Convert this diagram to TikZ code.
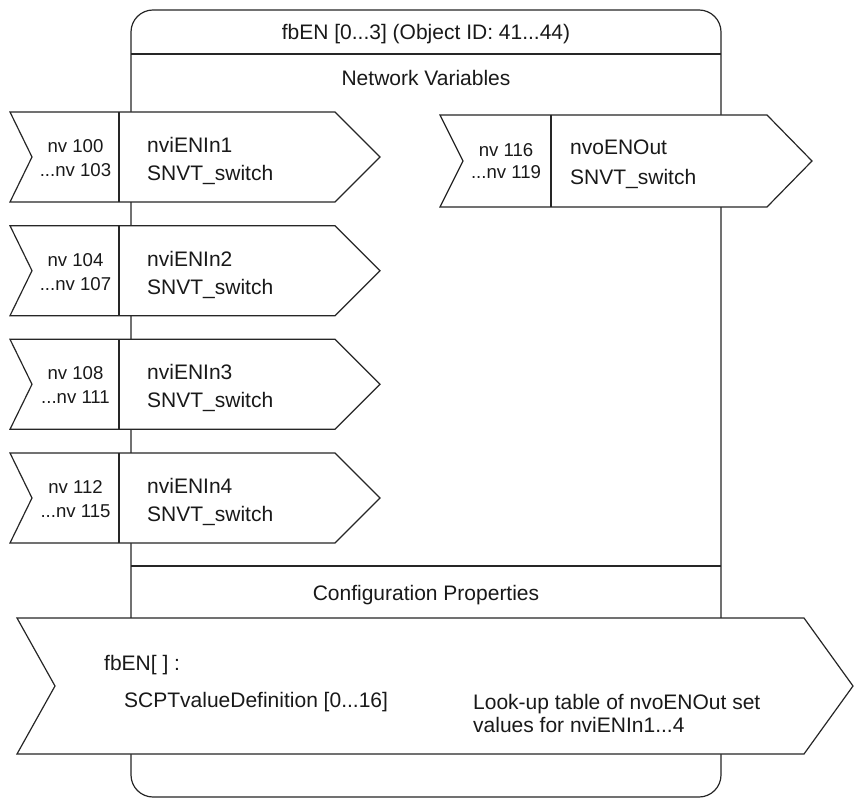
\documentclass[tikz,border=0pt]{standalone}
\usepackage{fontspec}
\setmainfont{Liberation Sans}
\begin{document}
\begin{tikzpicture}[x=1pt,y=-1pt,
  line/.style={draw=black!85, line width=1.2pt, line join=miter},
  shapebox/.style={line, fill=white},
  txt/.style={inner sep=0pt, text=black!90, font=\fontsize{21}{25}\selectfont},
  ltxt/.style={txt, anchor=base west},
  ctxt/.style={txt, anchor=base},
  nvtxt/.style={ctxt, font=\fontsize{18.6}{22}\selectfont}]
\useasboundingbox (0,0) rectangle (854,799);
% main block
\draw[line, fill=white, rounded corners=22pt] (131,10) rectangle (721,797);
\draw[line] (131,54) -- (721,54);
\draw[line] (131,566) -- (721,566);
\node[ctxt] (title) at (426,40) {fbEN [0...3] (Object ID: 41...44)};
\node[ctxt] (nvhead) at (426,85.5) {Network Variables};
\node[ctxt] (cphead) at (426,600.5) {Configuration Properties};
% input network variables
\foreach \t/\a/\b/\n [count=\i] in {112/100/103/1, 225.7/104/107/2, 339.3/108/111/3, 453/112/115/4}{
  \draw[shapebox] (10,\t) -- (335,\t) -- (380,\t+45) -- (335,\t+90) -- (10,\t+90) -- (32,\t+45) -- cycle;
  \draw[line] (119,\t) -- (119,\t+90);
  \node[nvtxt] (nva\i) at (75.5,\t+40.5) {nv \a};
  \node[nvtxt] (nvb\i) at (75.5,\t+64.5) {...nv \b};
  \node[ltxt] (nvn\i) at (147,\t+40.5) {nviENIn\n};
  \node[ltxt] (nvt\i) at (147,\t+68.5) {SNVT\_switch};
}
% output network variable
\draw[shapebox] (440,115) -- (767,115) -- (812,161) -- (767,207) -- (440,207) -- (463,161) -- cycle;
\draw[line] (551,115) -- (551,207);
\node[nvtxt] (nvoa) at (506,156.5) {nv 116};
\node[nvtxt] (nvob) at (506,178.5) {...nv 119};
\node[ltxt] (nvon) at (570,154.5) {nvoENOut};
\node[ltxt] (nvot) at (570,184.5) {SNVT\_switch};
% configuration property
\draw[shapebox] (17,618) -- (804,618) -- (853,686) -- (804,754) -- (17,754) -- (55,686) -- cycle;
\node[ltxt] (cpa) at (104,670.5) {fbEN[ ] :};
\node[ltxt] (cpb) at (124,707.5) {SCPTvalueDefinition [0...16]};
\node[ltxt] (cpc) at (473,709) {Look-up table of nvoENOut set};
\node[ltxt] (cpd) at (473,732.5) {values for nviENIn1...4};
\end{tikzpicture}
\end{document}
